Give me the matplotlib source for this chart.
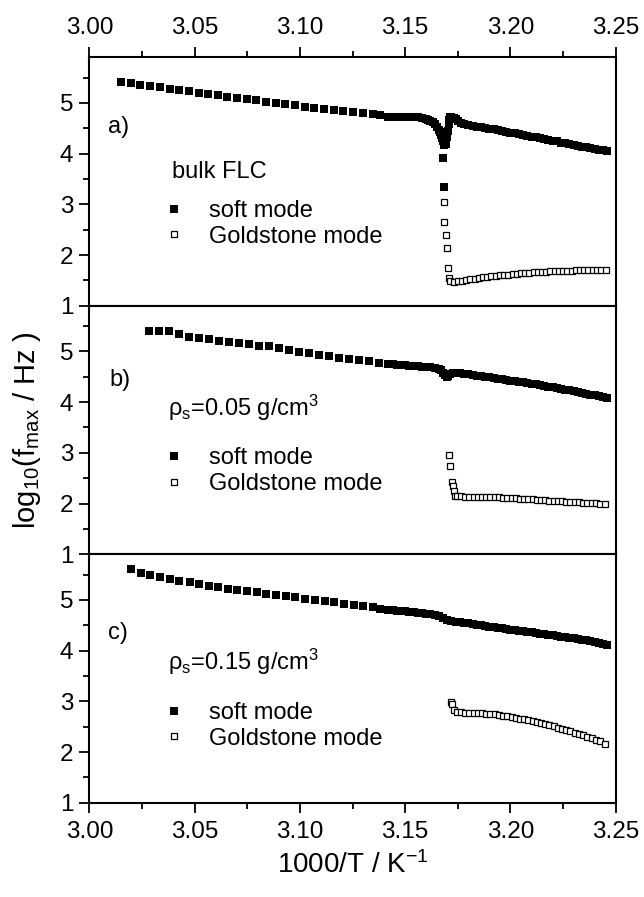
import matplotlib
matplotlib.use("Agg")
import matplotlib.pyplot as plt
from matplotlib.ticker import MultipleLocator, FormatStrFormatter

plt.rcParams['font.family'] = ['Liberation Sans', 'DejaVu Sans']
plt.rcParams['mathtext.fontset'] = 'custom'
plt.rcParams['mathtext.rm'] = 'Liberation Sans'
plt.rcParams['mathtext.it'] = 'Liberation Sans:italic'

# ---- panel a) bulk FLC ----
a_soft_x = [3.0151, 3.0197, 3.0243, 3.0288, 3.0335, 3.0383, 3.0427, 3.0474, 3.0520, 3.0564,
            3.0609, 3.0655, 3.0701, 3.0747, 3.0793, 3.0839, 3.0885, 3.0931, 3.0977, 3.1023,
            3.1069, 3.1115, 3.1161, 3.1207, 3.1253, 3.1299, 3.1345, 3.1380,
            3.142, 3.144, 3.146, 3.148, 3.150, 3.152, 3.154, 3.156, 3.158, 3.160,
            3.161, 3.162, 3.163, 3.164, 3.165, 3.166, 3.1665, 3.167, 3.1675, 3.168, 3.1685,
            3.1681, 3.1685,
            3.1695, 3.1700, 3.1703, 3.1706, 3.1710, 3.1715, 3.1720, 3.1730, 3.1740, 3.1750,
            3.1765, 3.178, 3.180, 3.182, 3.184, 3.186, 3.188, 3.190, 3.192, 3.194,
            3.196, 3.198, 3.200, 3.202, 3.204, 3.206, 3.208, 3.210, 3.212, 3.214,
            3.216, 3.218, 3.220, 3.222, 3.224, 3.226, 3.228, 3.230, 3.232, 3.234,
            3.236, 3.238, 3.240, 3.242, 3.244, 3.2457]
a_soft_y = [5.42, 5.39, 5.35, 5.33, 5.31, 5.27, 5.25, 5.23, 5.20, 5.18,
            5.15, 5.12, 5.10, 5.07, 5.05, 5.02, 5.00, 4.98, 4.95, 4.93,
            4.91, 4.89, 4.87, 4.85, 4.83, 4.81, 4.79, 4.77,
            4.73, 4.73, 4.73, 4.73, 4.725, 4.72, 4.72, 4.715, 4.71, 4.69,
            4.67, 4.65, 4.62, 4.58, 4.53, 4.46, 4.42, 4.36, 4.31, 4.25, 4.18,
            3.91, 3.34,
            4.20, 4.32, 4.45, 4.58, 4.67, 4.72, 4.73, 4.71, 4.68, 4.65,
            4.61, 4.59, 4.57, 4.55, 4.535, 4.52, 4.51, 4.49, 4.48, 4.46,
            4.44, 4.43, 4.41, 4.40, 4.38, 4.36, 4.35, 4.33, 4.32, 4.30,
            4.28, 4.27, 4.25, 4.24, 4.22, 4.21, 4.19, 4.17, 4.16, 4.14,
            4.13, 4.11, 4.10, 4.08, 4.07, 4.06]
a_gold_x = [3.1685, 3.1686, 3.1692, 3.1697, 3.1702, 3.1708,
            3.1713, 3.173, 3.175, 3.177, 3.179, 3.181, 3.183, 3.185, 3.187, 3.189,
            3.191, 3.193, 3.195, 3.197, 3.199, 3.201, 3.203, 3.205, 3.207, 3.209,
            3.211, 3.213, 3.215, 3.217, 3.219, 3.221, 3.223, 3.225, 3.227, 3.229,
            3.231, 3.233, 3.235, 3.237, 3.239, 3.241, 3.243, 3.2455]
a_gold_y = [3.05, 2.65, 2.39, 2.14, 1.74, 1.55,
            1.48, 1.47, 1.48, 1.49, 1.51, 1.52, 1.53, 1.55, 1.56, 1.57,
            1.58, 1.59, 1.60, 1.61, 1.615, 1.62, 1.63, 1.64, 1.645, 1.65,
            1.66, 1.665, 1.67, 1.675, 1.68, 1.68, 1.685, 1.69, 1.69, 1.695,
            1.70, 1.70, 1.70, 1.705, 1.705, 1.71, 1.71, 1.71]

# ---- panel b) rho_s = 0.05 g/cm3 ----
b_soft_x = [3.0285, 3.0333, 3.0379, 3.0426, 3.0474, 3.0521, 3.0569, 3.0616, 3.0664, 3.0709,
            3.0757, 3.0804, 3.0852, 3.0899, 3.0947, 3.0994, 3.1042, 3.1089, 3.1137, 3.1184,
            3.1232, 3.1279, 3.1327, 3.1375,
            3.142, 3.144, 3.146, 3.148, 3.150, 3.152, 3.154, 3.156, 3.158, 3.160,
            3.162, 3.164, 3.166, 3.167, 3.168, 3.169, 3.1697, 3.1705, 3.1715, 3.1725,
            3.174, 3.176, 3.178, 3.180, 3.182, 3.184, 3.186, 3.188, 3.190, 3.192,
            3.194, 3.196, 3.198, 3.200, 3.202, 3.204, 3.206, 3.208, 3.210, 3.212,
            3.214, 3.216, 3.218, 3.220, 3.222, 3.224, 3.226, 3.228, 3.230, 3.232,
            3.234, 3.236, 3.238, 3.240, 3.242, 3.244, 3.2457]
b_soft_y = [5.40, 5.40, 5.40, 5.35, 5.29, 5.27, 5.25, 5.21, 5.19, 5.17,
            5.14, 5.11, 5.10, 5.06, 5.02, 4.99, 4.97, 4.93, 4.91, 4.88,
            4.86, 4.83, 4.81, 4.78,
            4.75, 4.745, 4.74, 4.735, 4.73, 4.72, 4.715, 4.71, 4.70, 4.695,
            4.69, 4.68, 4.66, 4.63, 4.58, 4.53, 4.50, 4.52, 4.56, 4.58,
            4.58, 4.575, 4.56, 4.55, 4.54, 4.525, 4.515, 4.50, 4.49, 4.475,
            4.46, 4.45, 4.44, 4.425, 4.415, 4.40, 4.39, 4.375, 4.36, 4.35,
            4.335, 4.32, 4.305, 4.29, 4.275, 4.26, 4.245, 4.23, 4.215, 4.20,
            4.185, 4.17, 4.15, 4.135, 4.12, 4.10, 4.09]
b_gold_x = [3.1708, 3.1713, 3.1721, 3.1726, 3.1732, 3.1737,
            3.1745, 3.1765, 3.1785, 3.1805, 3.1825, 3.1845, 3.1865, 3.1885, 3.1905, 3.1925,
            3.1945, 3.1965, 3.1985, 3.2005, 3.2025, 3.2045, 3.2065, 3.2085, 3.2105, 3.2125,
            3.2145, 3.2165, 3.2185, 3.2205, 3.2225, 3.2245, 3.2265, 3.2285, 3.2305, 3.2325,
            3.2345, 3.2365, 3.2385, 3.2405, 3.2425, 3.2449]
b_gold_y = [2.96, 2.74, 2.43, 2.35, 2.24, 2.15,
            2.15, 2.14, 2.135, 2.13, 2.13, 2.13, 2.125, 2.125, 2.12, 2.12,
            2.12, 2.115, 2.11, 2.105, 2.10, 2.095, 2.09, 2.085, 2.08, 2.075,
            2.07, 2.065, 2.06, 2.055, 2.05, 2.045, 2.04, 2.035, 2.03, 2.025,
            2.02, 2.015, 2.01, 2.005, 2.00, 2.00]

# ---- panel c) rho_s = 0.15 g/cm3 ----
c_soft_x = [3.0199, 3.0245, 3.0290, 3.0337, 3.0384, 3.0428, 3.0476, 3.0522, 3.0566, 3.0611,
            3.0657, 3.0703, 3.0749, 3.0795, 3.0841, 3.0887, 3.0933, 3.0979, 3.1025, 3.1071,
            3.1117, 3.1163, 3.1209, 3.1255, 3.1301, 3.1347, 3.1380,
            3.142, 3.144, 3.146, 3.148, 3.150, 3.152, 3.154, 3.156, 3.158, 3.160,
            3.162, 3.164, 3.166, 3.168, 3.170, 3.172, 3.174, 3.176, 3.178, 3.180,
            3.182, 3.184, 3.186, 3.188, 3.190, 3.192, 3.194, 3.196, 3.198, 3.200,
            3.202, 3.204, 3.206, 3.208, 3.210, 3.212, 3.214, 3.216, 3.218, 3.220,
            3.222, 3.224, 3.226, 3.228, 3.230, 3.232, 3.234, 3.236, 3.238, 3.240,
            3.242, 3.244, 3.2457]
c_soft_y = [5.60, 5.54, 5.49, 5.45, 5.41, 5.38, 5.35, 5.31, 5.27, 5.25,
            5.22, 5.20, 5.17, 5.15, 5.12, 5.10, 5.07, 5.05, 5.02, 5.00,
            4.97, 4.95, 4.92, 4.90, 4.88, 4.85, 4.83,
            4.80, 4.795, 4.79, 4.785, 4.775, 4.77, 4.76, 4.75, 4.74, 4.73,
            4.715, 4.70, 4.68, 4.65, 4.61, 4.58, 4.565, 4.555, 4.545, 4.535,
            4.525, 4.51, 4.50, 4.49, 4.475, 4.46, 4.45, 4.44, 4.43, 4.415,
            4.405, 4.395, 4.38, 4.37, 4.36, 4.345, 4.335, 4.32, 4.31, 4.30,
            4.29, 4.275, 4.265, 4.25, 4.24, 4.225, 4.21, 4.20, 4.185, 4.17,
            4.155, 4.14, 4.12]
c_gold_x = [3.1718, 3.1722, 3.1730,
            3.1745, 3.1765, 3.1785, 3.1805, 3.1825, 3.1845, 3.1865, 3.1885, 3.1905, 3.1925,
            3.1945, 3.1965, 3.1985, 3.2005, 3.2025, 3.2045, 3.2065, 3.2085, 3.2105, 3.2125,
            3.2145, 3.2165, 3.2185, 3.2205, 3.2225, 3.2245, 3.2265, 3.2285, 3.2305, 3.2325,
            3.2345, 3.2365, 3.2385, 3.2405, 3.2425, 3.2449]
c_gold_y = [2.99, 2.94, 2.83,
            2.79, 2.78, 2.775, 2.77, 2.765, 2.76, 2.76, 2.75, 2.745, 2.74,
            2.73, 2.72, 2.71, 2.70, 2.68, 2.66, 2.65, 2.63, 2.61, 2.59,
            2.57, 2.55, 2.53, 2.51, 2.48, 2.46, 2.43, 2.41, 2.38, 2.35,
            2.33, 2.30, 2.27, 2.24, 2.21, 2.16]

panel_tags = ['a)', 'b)', 'c)']
panel_notes = ['bulk FLC', r'ρ$_\mathrm{s}$=0.05 g/cm$^3$', r'ρ$_\mathrm{s}$=0.15 g/cm$^3$']

panels = [(a_soft_x, a_soft_y, a_gold_x, a_gold_y),
          (b_soft_x, b_soft_y, b_gold_x, b_gold_y),
          (c_soft_x, c_soft_y, c_gold_x, c_gold_y)]

# label placement (axes fraction)
tag_pos = [(0.036, 0.72), (0.039, 0.70), (0.036, 0.685)]
note_pos = [(0.157, 0.513), (0.150, 0.555), (0.150, 0.536)]
leg_pos = [(0.138, 0.425), (0.138, 0.43), (0.138, 0.405)]

fig = plt.figure(figsize=(6.44, 8.97), dpi=100)
left, width = 0.1387, 0.8174
bottom, top = 0.1051, 0.9361
h = (top - bottom) / 3

axes = []
for i in range(3):
    ax = fig.add_axes([left, top - (i + 1) * h, width, h])
    axes.append(ax)

for i, ax in enumerate(axes):
    sx, sy, gx, gy = panels[i]
    ax.plot(gx, gy, ls='none', marker='s', ms=4.3, mfc='white', mec='black', mew=0.9,
            label='Goldstone mode', zorder=3)
    ax.plot(sx, sy, ls='none', marker='s', ms=5.2, mfc='black', mec='black', mew=0,
            label='soft mode', zorder=4)

    ax.set_xlim(3.00, 3.25)
    ax.set_ylim(1, 5.9)
    ax.xaxis.set_major_locator(MultipleLocator(0.05))
    ax.xaxis.set_minor_locator(MultipleLocator(0.025))
    ax.xaxis.set_major_formatter(FormatStrFormatter('%.2f'))
    ax.yaxis.set_major_locator(MultipleLocator(1))
    ax.yaxis.set_minor_locator(MultipleLocator(0.5))
    for sp in ax.spines.values():
        sp.set_linewidth(1.5)
    ax.tick_params(which='both', direction='out', width=1.3, labelsize=17.5,
                   right=False, top=(i == 0), labeltop=(i == 0),
                   bottom=True, labelbottom=(i == 2))
    ax.tick_params(which='major', length=7.5)
    ax.tick_params(which='minor', length=4.5)
    ax.tick_params(axis='y', pad=4)
    ax.tick_params(axis='x', pad=6)

    ax.text(tag_pos[i][0], tag_pos[i][1], panel_tags[i], transform=ax.transAxes,
            fontsize=17, ha='left', va='center')
    ax.text(note_pos[i][0], note_pos[i][1], panel_notes[i], transform=ax.transAxes,
            fontsize=17, ha='left', va='baseline')
    handles, labels = ax.get_legend_handles_labels()
    ax.legend(handles[::-1], labels[::-1], loc='upper left', bbox_to_anchor=leg_pos[i],
              frameon=False, fontsize=17, numpoints=1, handlelength=1.0,
              handletextpad=1.0, labelspacing=0.15, borderpad=0, borderaxespad=0)

fig.text(0.042, (top + bottom) / 2, r'log$_{10}$(f$_\mathrm{max}$ / Hz )', rotation=90,
         fontsize=21, ha='center', va='center')
fig.text(left + width / 2, 0.027, r'1000/T / K$^{-1}$', fontsize=20,
         ha='center', va='baseline')

fig.savefig('out.png', dpi=100)
